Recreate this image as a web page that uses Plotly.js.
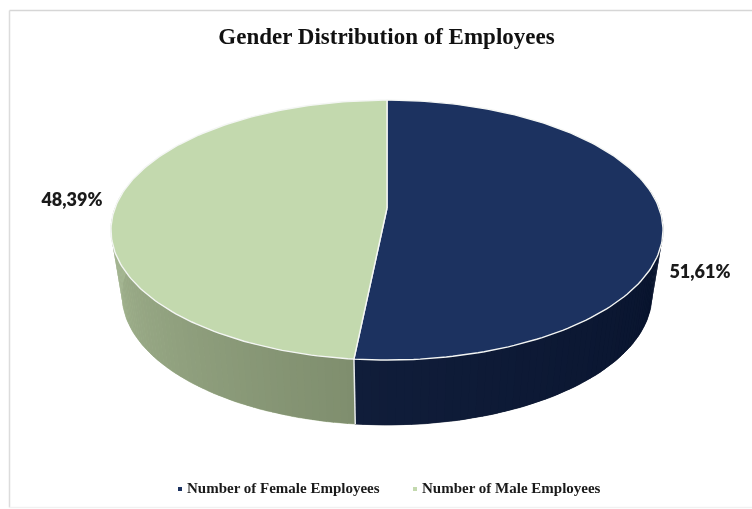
<!DOCTYPE html>
<html>
<head>
<meta charset="utf-8">
<script src="https://cdn.plot.ly/plotly-3.0.1.min.js"></script>
<style>
html,body{margin:0;padding:0;background:#fff;overflow:hidden}
#chart{width:752px;height:509px;filter:blur(0.5px)}
</style>
</head>
<body>
<div id="chart"></div>
<script>
var chartTitle = 'Gender Distribution of Employees';
var categories = ['Number of Female Employees', 'Number of Male Employees'];
var shares = [51.61, 48.39];
var topColors = ['#1c3260', '#c3d9ae'];
var sideStops = [['#06112a', '#101d3a'], ['#a9bb96', '#7f8e6e']];
var labelSpots = [[700, 273], [72, 201]];
var legendSpots = [[180, 489], [415, 489]];
var legendTextX = [187, 422];

// Pie projection (axes run in picture units)
var cx = 387, cy = 208, A = 272, B = 126.2, p = 0.17, depth = 65, shrink = 0.96;

function top3d(deg) {
  var t = deg * Math.PI / 180, u = Math.sin(t), v = -Math.cos(t), w = 1 - p * v;
  return [cx + A * u / w, cy + B * v / w];
}
function low3d(deg) {
  var q = top3d(deg);
  return [cx + (q[0] - cx) * shrink, q[1] + depth];
}
function hex(c) { return [1, 3, 5].map(function (i) { return parseInt(c.substr(i, 2), 16); }); }
function mix(a, b, f) {
  var x = hex(a), y = hex(b);
  return 'rgb(' + x.map(function (k, i) { return Math.round(k + (y[i] - k) * f); }).join(',') + ')';
}

var total = shares.reduce(function (a, b) { return a + b; }, 0);
var splitDeg = shares[0] / total * 360;
var traces = [];

// Solid backing for a wall, so thin strips at the rim leave no light gaps
function addBacking(from, to, col) {
  var xs = [], ys = [], i, q;
  for (i = 0; i <= 80; i++) { q = top3d(from + (to - from) * i / 80); xs.push(q[0]); ys.push(q[1]); }
  for (i = 80; i >= 0; i--) { q = low3d(from + (to - from) * i / 80); xs.push(q[0]); ys.push(q[1]); }
  xs.push(xs[0]); ys.push(ys[0]);
  traces.push({x: xs, y: ys, mode: 'lines', fill: 'toself', fillcolor: col,
    line: {color: col, width: 0.6}, hoverinfo: 'skip', showlegend: false});
}
function addStrips(from, to, stops, n, reverse) {
  for (var i = 0; i < n; i++) {
    var a = from + (to - from) * i / n, b = from + (to - from) * (i + 1) / n + 0.15;
    var f = (i + 0.5) / n;
    var col = mix(stops[0], stops[1], reverse ? 1 - f : f);
    var t0 = top3d(a), t1 = top3d(b), l1 = low3d(b), l0 = low3d(a);
    traces.push({
      x: [t0[0], t1[0], l1[0], l0[0], t0[0]],
      y: [t0[1], t1[1], l1[1], l0[1], t0[1]],
      mode: 'lines', fill: 'toself', fillcolor: col,
      line: {width: 0}, hoverinfo: 'skip', showlegend: false
    });
  }
}
// Side walls: the visible lower half of the pie, cut at the slice border
addBacking(82, splitDeg, sideStops[0][0]);
addBacking(splitDeg, 278, sideStops[1][0]);
addStrips(82, splitDeg, sideStops[0], 70, false);
addStrips(splitDeg, 278, sideStops[1], 70, true);

// Seam on the wall
var s0 = top3d(splitDeg), s1 = low3d(splitDeg);
traces.push({x: [s0[0], s1[0]], y: [s0[1], s1[1]], mode: 'lines',
  line: {color: '#e6e9ea', width: 1.5}, hoverinfo: 'skip', showlegend: false});

// Top faces, from the values
function wedge(from, to, color) {
  var xs = [cx], ys = [cy];
  for (var i = 0; i <= 160; i++) {
    var q = top3d(from + (to - from) * i / 160);
    xs.push(q[0]); ys.push(q[1]);
  }
  xs.push(cx); ys.push(cy);
  return {x: xs, y: ys, mode: 'lines', fill: 'toself', fillcolor: color,
    line: {color: '#f4f6f4', width: 1.4}, hoverinfo: 'skip', showlegend: false};
}
traces.push(wedge(0, splitDeg, topColors[0]));
traces.push(wedge(splitDeg, 360, topColors[1]));

// Value labels
traces.push({
  x: labelSpots.map(function (d) { return d[0]; }),
  y: labelSpots.map(function (d) { return d[1]; }),
  mode: 'text',
  text: shares.map(function (s) { return s.toFixed(2).replace('.', ',') + '%'; }),
  textposition: 'middle center',
  textfont: {family: 'Lato, sans-serif', size: 18, weight: 800, color: '#1a1a1a'},
  hoverinfo: 'skip', showlegend: false
});

// Legend row
categories.forEach(function (name, i) {
  traces.push({
    x: [legendSpots[i][0]], y: [legendSpots[i][1]],
    mode: 'markers', name: name,
    marker: {symbol: 'square', size: 4, color: topColors[i]},
    hoverinfo: 'skip', showlegend: false
  });
  traces.push({
    x: [legendTextX[i]], y: [legendSpots[i][1]],
    mode: 'text', text: [name], textposition: 'middle right',
    textfont: {family: '"Liberation Serif", serif', size: 15, weight: 700, color: '#1a1a1a'},
    hoverinfo: 'skip', showlegend: false
  });
});

function frameLine(x0, y0, x1, y1, color) {
  return {type: 'line', xref: 'x', yref: 'y', x0: x0, y0: y0, x1: x1, y1: y1,
    line: {color: color, width: 1.5}, layer: 'below'};
}

var layout = {
  width: 752, height: 509,
  margin: {l: 0, r: 0, t: 0, b: 0},
  paper_bgcolor: '#ffffff', plot_bgcolor: '#ffffff',
  showlegend: false,
  title: {
    text: chartTitle, x: 386.5 / 752, xanchor: 'center', y: 1 - 36 / 509, yanchor: 'middle',
    font: {family: '"Liberation Serif", serif', size: 23, weight: 700, color: '#111111'}
  },
  xaxis: {range: [0, 752], visible: false, fixedrange: true},
  yaxis: {range: [509, 0], visible: false, fixedrange: true},
  shapes: [
    frameLine(9.5, 10.5, 752, 10.5, '#d6d6d6'),
    frameLine(9.5, 10.5, 9.5, 507.5, '#dcdcdc'),
    frameLine(9.5, 507.5, 752, 507.5, '#f1f1f1')
  ]
};

Plotly.newPlot('chart', traces, layout, {displayModeBar: false, staticPlot: true});
</script>
</body>
</html>
